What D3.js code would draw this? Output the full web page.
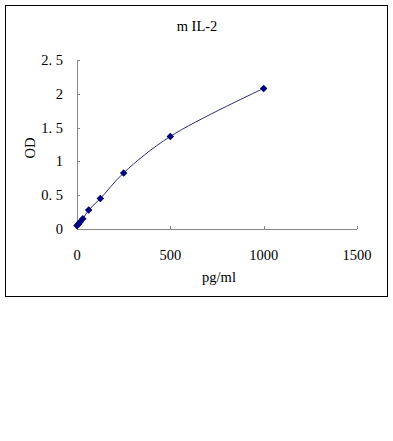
<!DOCTYPE html>
<html>
<head>
<meta charset="utf-8">
<script src="https://cdn.jsdelivr.net/npm/d3@7"></script>
<style>
  body { margin: 0; background: #fff; }
  text { font-family: "Liberation Serif", "DejaVu Serif", serif; fill: #000; }
</style>
</head>
<body>
<div id="chart"></div>
<script>
var concentrations = [0, 7.8, 15.6, 31.25, 62.5, 125, 250, 500, 1000];
var odValues = [0.05, 0.07, 0.1, 0.15, 0.28, 0.45, 0.83, 1.37, 2.08];
var xTicks = [0, 500, 1000, 1500];
var yTicks = [0, 0.5, 1, 1.5, 2, 2.5];

var width = 393, height = 441;
var fontSize = 14.5;

var svg = d3.select("#chart")
    .append("svg")
        .attr("width", width)
        .attr("height", height)

// outer frame
svg.append("rect")
    .attr("x", 5.5)
    .attr("y", 5.5)
    .attr("width", 382)
    .attr("height", 291)
    .attr("fill", "none")
    .attr("stroke", "#000")

var x = d3.scaleLinear().domain([0, 1500]).range([77, 357])
var y = d3.scaleLinear().domain([0, 2.5]).range([229, 60])

var axisColor = "#868686"

// y axis line + inner ticks
svg.append("line")
    .attr("x1", x(0) + 0.5).attr("x2", x(0) + 0.5)
    .attr("y1", y(2.5)).attr("y2", y(0))
    .attr("stroke", axisColor)

svg.selectAll(".ytick")
    .data(yTicks)
    .enter().append("line")
        .attr("x1", x(0)).attr("x2", x(0) + 3)
        .attr("y1", function(d) { return Math.round(y(d)) + 0.5 })
        .attr("y2", function(d) { return Math.round(y(d)) + 0.5 })
        .attr("stroke", axisColor)

svg.selectAll(".ylabel")
    .data(yTicks)
    .enter().append("text")
        .attr("x", 63)
        .attr("y", function(d) { return y(d) + 5 })
        .attr("text-anchor", "end")
        .attr("font-size", fontSize)
        .text(function(d) { return String(d).replace(".", ". ") })

// x axis line + inner ticks
svg.append("line")
    .attr("x1", x(0)).attr("x2", x(1500))
    .attr("y1", y(0) + 0.5).attr("y2", y(0) + 0.5)
    .attr("stroke", axisColor)

svg.selectAll(".xtick")
    .data(xTicks)
    .enter().append("line")
        .attr("x1", function(d) { return Math.round(x(d)) + 0.5 })
        .attr("x2", function(d) { return Math.round(x(d)) + 0.5 })
        .attr("y1", y(0)).attr("y2", y(0) - 3)
        .attr("stroke", axisColor)

svg.selectAll(".xlabel")
    .data(xTicks)
    .enter().append("text")
        .attr("x", function(d) { return x(d) })
        .attr("y", 260)
        .attr("text-anchor", "middle")
        .attr("font-size", fontSize)
        .text(function(d) { return d })

// titles
svg.append("text")
    .attr("x", 197)
    .attr("y", 31)
    .attr("text-anchor", "middle")
    .attr("font-size", fontSize)
    .text("m IL-2")

svg.append("text")
    .attr("x", 219)
    .attr("y", 282)
    .attr("text-anchor", "middle")
    .attr("font-size", fontSize)
    .text("pg/ml")

svg.append("text")
    .attr("transform", "translate(35, 148) rotate(-90)")
    .attr("text-anchor", "middle")
    .attr("font-size", fontSize)
    .text("OD")

// curve + markers
var points = concentrations.map(function(c, i) { return [c, odValues[i]] })

var line = d3.line()
    .x(function(d) { return x(d[0]) })
    .y(function(d) { return y(d[1]) })
    .curve(d3.curveCatmullRom.alpha(0.5))

svg.append("path")
    .datum(points)
    .attr("d", line)
    .attr("fill", "none")
    .attr("stroke", "#2a2a80")
    .attr("stroke-width", 1)

svg.selectAll(".marker")
    .data(points)
    .enter().append("path")
        .attr("d", d3.symbol().type(d3.symbolDiamond2).size(36))
        .attr("transform", function(d) { return "translate(" + x(d[0]) + "," + y(d[1]) + ")" })
        .attr("fill", "#00007a")
</script>
</body>
</html>
